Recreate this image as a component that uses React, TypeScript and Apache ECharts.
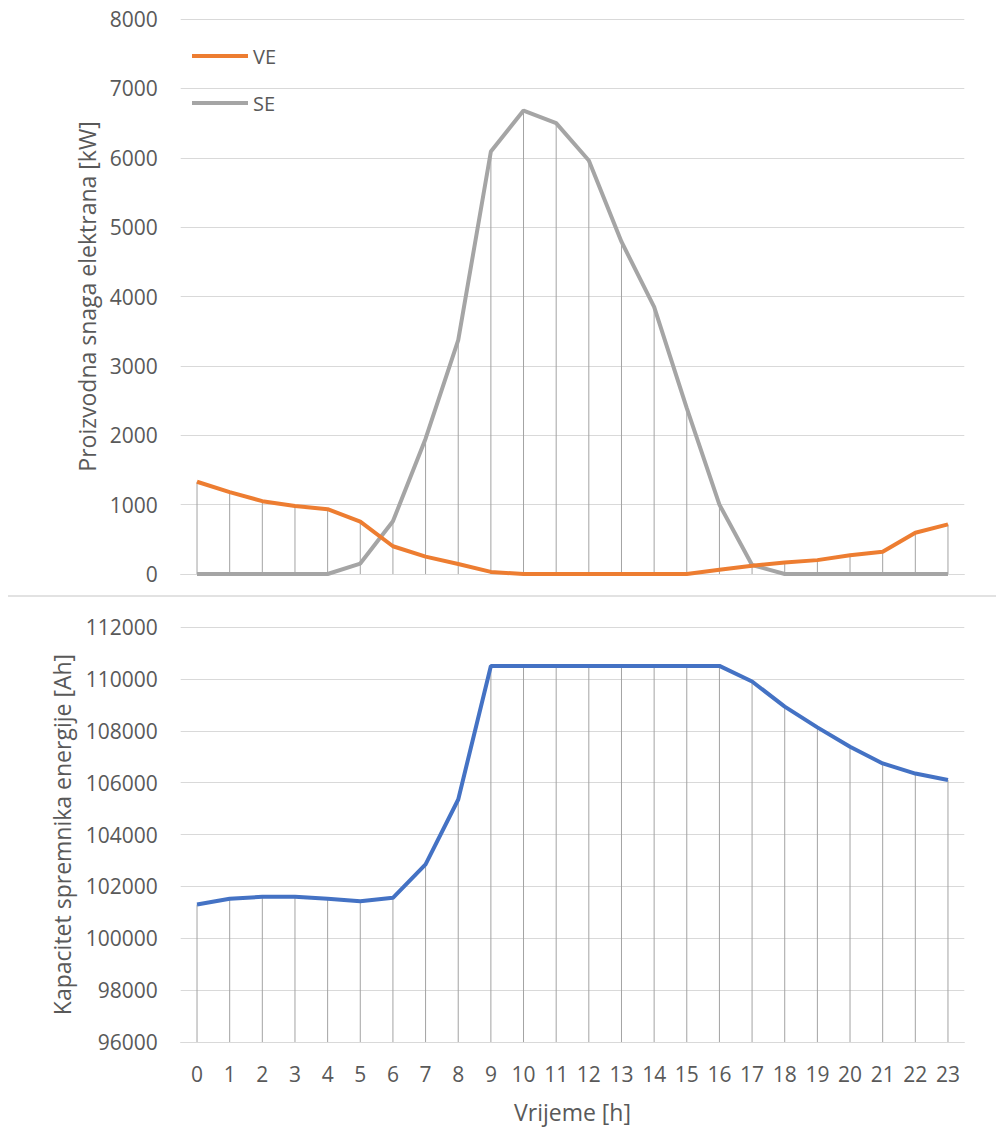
import React, { useEffect, useRef } from "react";
import * as echarts from "echarts";

const hours = ["0","1","2","3","4","5","6","7","8","9","10","11","12","13","14","15","16","17","18","19","20","21","22","23"];
const veValues = [1330, 1180, 1050, 980, 935, 755, 400, 250, 145, 30, 0, 0, 0, 0, 0, 0, 60, 120, 165, 200, 270, 320, 595, 715];
const seValues = [0, 0, 0, 0, 0, 150, 760, 1950, 3370, 6090, 6680, 6500, 5960, 4790, 3850, 2390, 1000, 130, 0, 0, 0, 0, 0, 0];
const batteryValues = [101300, 101520, 101600, 101600, 101520, 101430, 101560, 102850, 105350, 110500, 110500, 110500, 110500, 110500, 110500, 110500, 110500, 109900, 108930, 108130, 107380, 106740, 106350, 106100];

const FONT = "'Open Sans', 'Noto Sans', sans-serif";
const TEXT = "#595959";
const GRID = "#d9d9d9";
const DROP = "#a3a3a3";

export default function App() {
  const ref = useRef<HTMLDivElement>(null);
  useEffect(() => {
    if (!ref.current) return;
    const chart = echarts.init(ref.current, undefined, { renderer: "svg" });
    const topDrop = hours.map((_, i) => [i, Math.max(veValues[i], seValues[i])]);
    const botDrop = hours.map((_, i) => [i, batteryValues[i]]);
    const dropRender = (minVal: number) => (params: any, api: any) => {
      const p1 = api.coord([api.value(0), api.value(1)]);
      const p0 = api.coord([api.value(0), minVal]);
      return {
        type: "line",
        shape: { x1: p1[0], y1: p1[1], x2: p0[0], y2: p0[1] },
        style: { stroke: DROP, lineWidth: 1 },
      };
    };
    const plain = (v: number) => String(v);
    chart.setOption({
      animation: false,
      textStyle: { fontFamily: FONT },
      grid: [
        { left: 180.7, width: 783.6, top: 19, height: 555 },
        { left: 180.7, width: 783.6, top: 627, height: 415 },
      ],
      legend: {
        data: ["VE", "SE"],
        orient: "vertical",
        left: 192,
        top: 44,
        padding: 0,
        icon: "rect",
        itemWidth: 56,
        itemHeight: 4,
        itemGap: 23,
        textStyle: { color: TEXT, fontSize: 20, fontFamily: FONT, lineHeight: 24 },
      },
      xAxis: [
        {
          type: "category",
          gridIndex: 0,
          data: hours,
          axisLine: { lineStyle: { color: GRID, width: 1 } },
          axisTick: { show: false },
          axisLabel: { show: false },
        },
        {
          type: "category",
          gridIndex: 1,
          data: hours,
          axisLine: { lineStyle: { color: GRID, width: 1 } },
          axisTick: { show: false },
          axisLabel: { color: TEXT, fontSize: 21, fontFamily: FONT, margin: 21 },
          name: "Vrijeme [h]",
          nameLocation: "middle",
          nameGap: 58,
          nameTextStyle: { color: TEXT, fontSize: 23, fontFamily: FONT },
        },
      ],
      yAxis: [
        {
          type: "value",
          gridIndex: 0,
          min: 0,
          max: 8000,
          interval: 1000,
          axisLine: { show: false },
          axisTick: { show: false },
          splitLine: { lineStyle: { color: GRID, width: 1 } },
          axisLabel: { color: TEXT, fontSize: 21, fontFamily: FONT, margin: 23, formatter: plain },
          name: "Proizvodna snaga elektrana [kW]",
          nameLocation: "middle",
          nameGap: 68,
          nameTextStyle: { color: TEXT, fontSize: 23, fontFamily: FONT },
        },
        {
          type: "value",
          gridIndex: 1,
          min: 96000,
          max: 112000,
          interval: 2000,
          axisLine: { show: false },
          axisTick: { show: false },
          splitLine: { lineStyle: { color: GRID, width: 1 } },
          axisLabel: { color: TEXT, fontSize: 21, fontFamily: FONT, margin: 23, formatter: plain },
          name: "Kapacitet spremnika energije [Ah]",
          nameLocation: "middle",
          nameGap: 107,
          nameTextStyle: { color: TEXT, fontSize: 23, fontFamily: FONT },
        },
      ],
      graphic: [
        {
          type: "line",
          shape: { x1: 8, y1: 596, x2: 996, y2: 596 },
          style: { stroke: GRID, lineWidth: 1.5 },
        },
      ],
      series: [
        {
          type: "custom",
          name: "dropTop",
          xAxisIndex: 0,
          yAxisIndex: 0,
          data: topDrop,
          renderItem: dropRender(0),
          z: 1,
          silent: true,
        },
        {
          type: "custom",
          name: "dropBottom",
          xAxisIndex: 1,
          yAxisIndex: 1,
          data: botDrop,
          renderItem: dropRender(96000),
          z: 1,
          silent: true,
        },
        {
          type: "line",
          name: "VE",
          xAxisIndex: 0,
          yAxisIndex: 0,
          data: veValues,
          showSymbol: false,
          symbol: "none",
          lineStyle: { color: "#ed7d31", width: 4 },
          itemStyle: { color: "#ed7d31" },
          z: 3,
        },
        {
          type: "line",
          name: "SE",
          xAxisIndex: 0,
          yAxisIndex: 0,
          data: seValues,
          showSymbol: false,
          symbol: "none",
          lineStyle: { color: "#a5a5a5", width: 4 },
          itemStyle: { color: "#a5a5a5" },
          z: 2,
        },
        {
          type: "line",
          name: "Kapacitet",
          xAxisIndex: 1,
          yAxisIndex: 1,
          data: batteryValues,
          showSymbol: false,
          symbol: "none",
          lineStyle: { color: "#4472c4", width: 4 },
          itemStyle: { color: "#4472c4" },
          z: 3,
        },
      ],
    });
    return () => chart.dispose();
  }, []);
  return (
    <div
      ref={ref}
      style={{ position: "fixed", left: 0, top: 0, width: 996, height: 1131, background: "#fff" }}
    />
  );
}
